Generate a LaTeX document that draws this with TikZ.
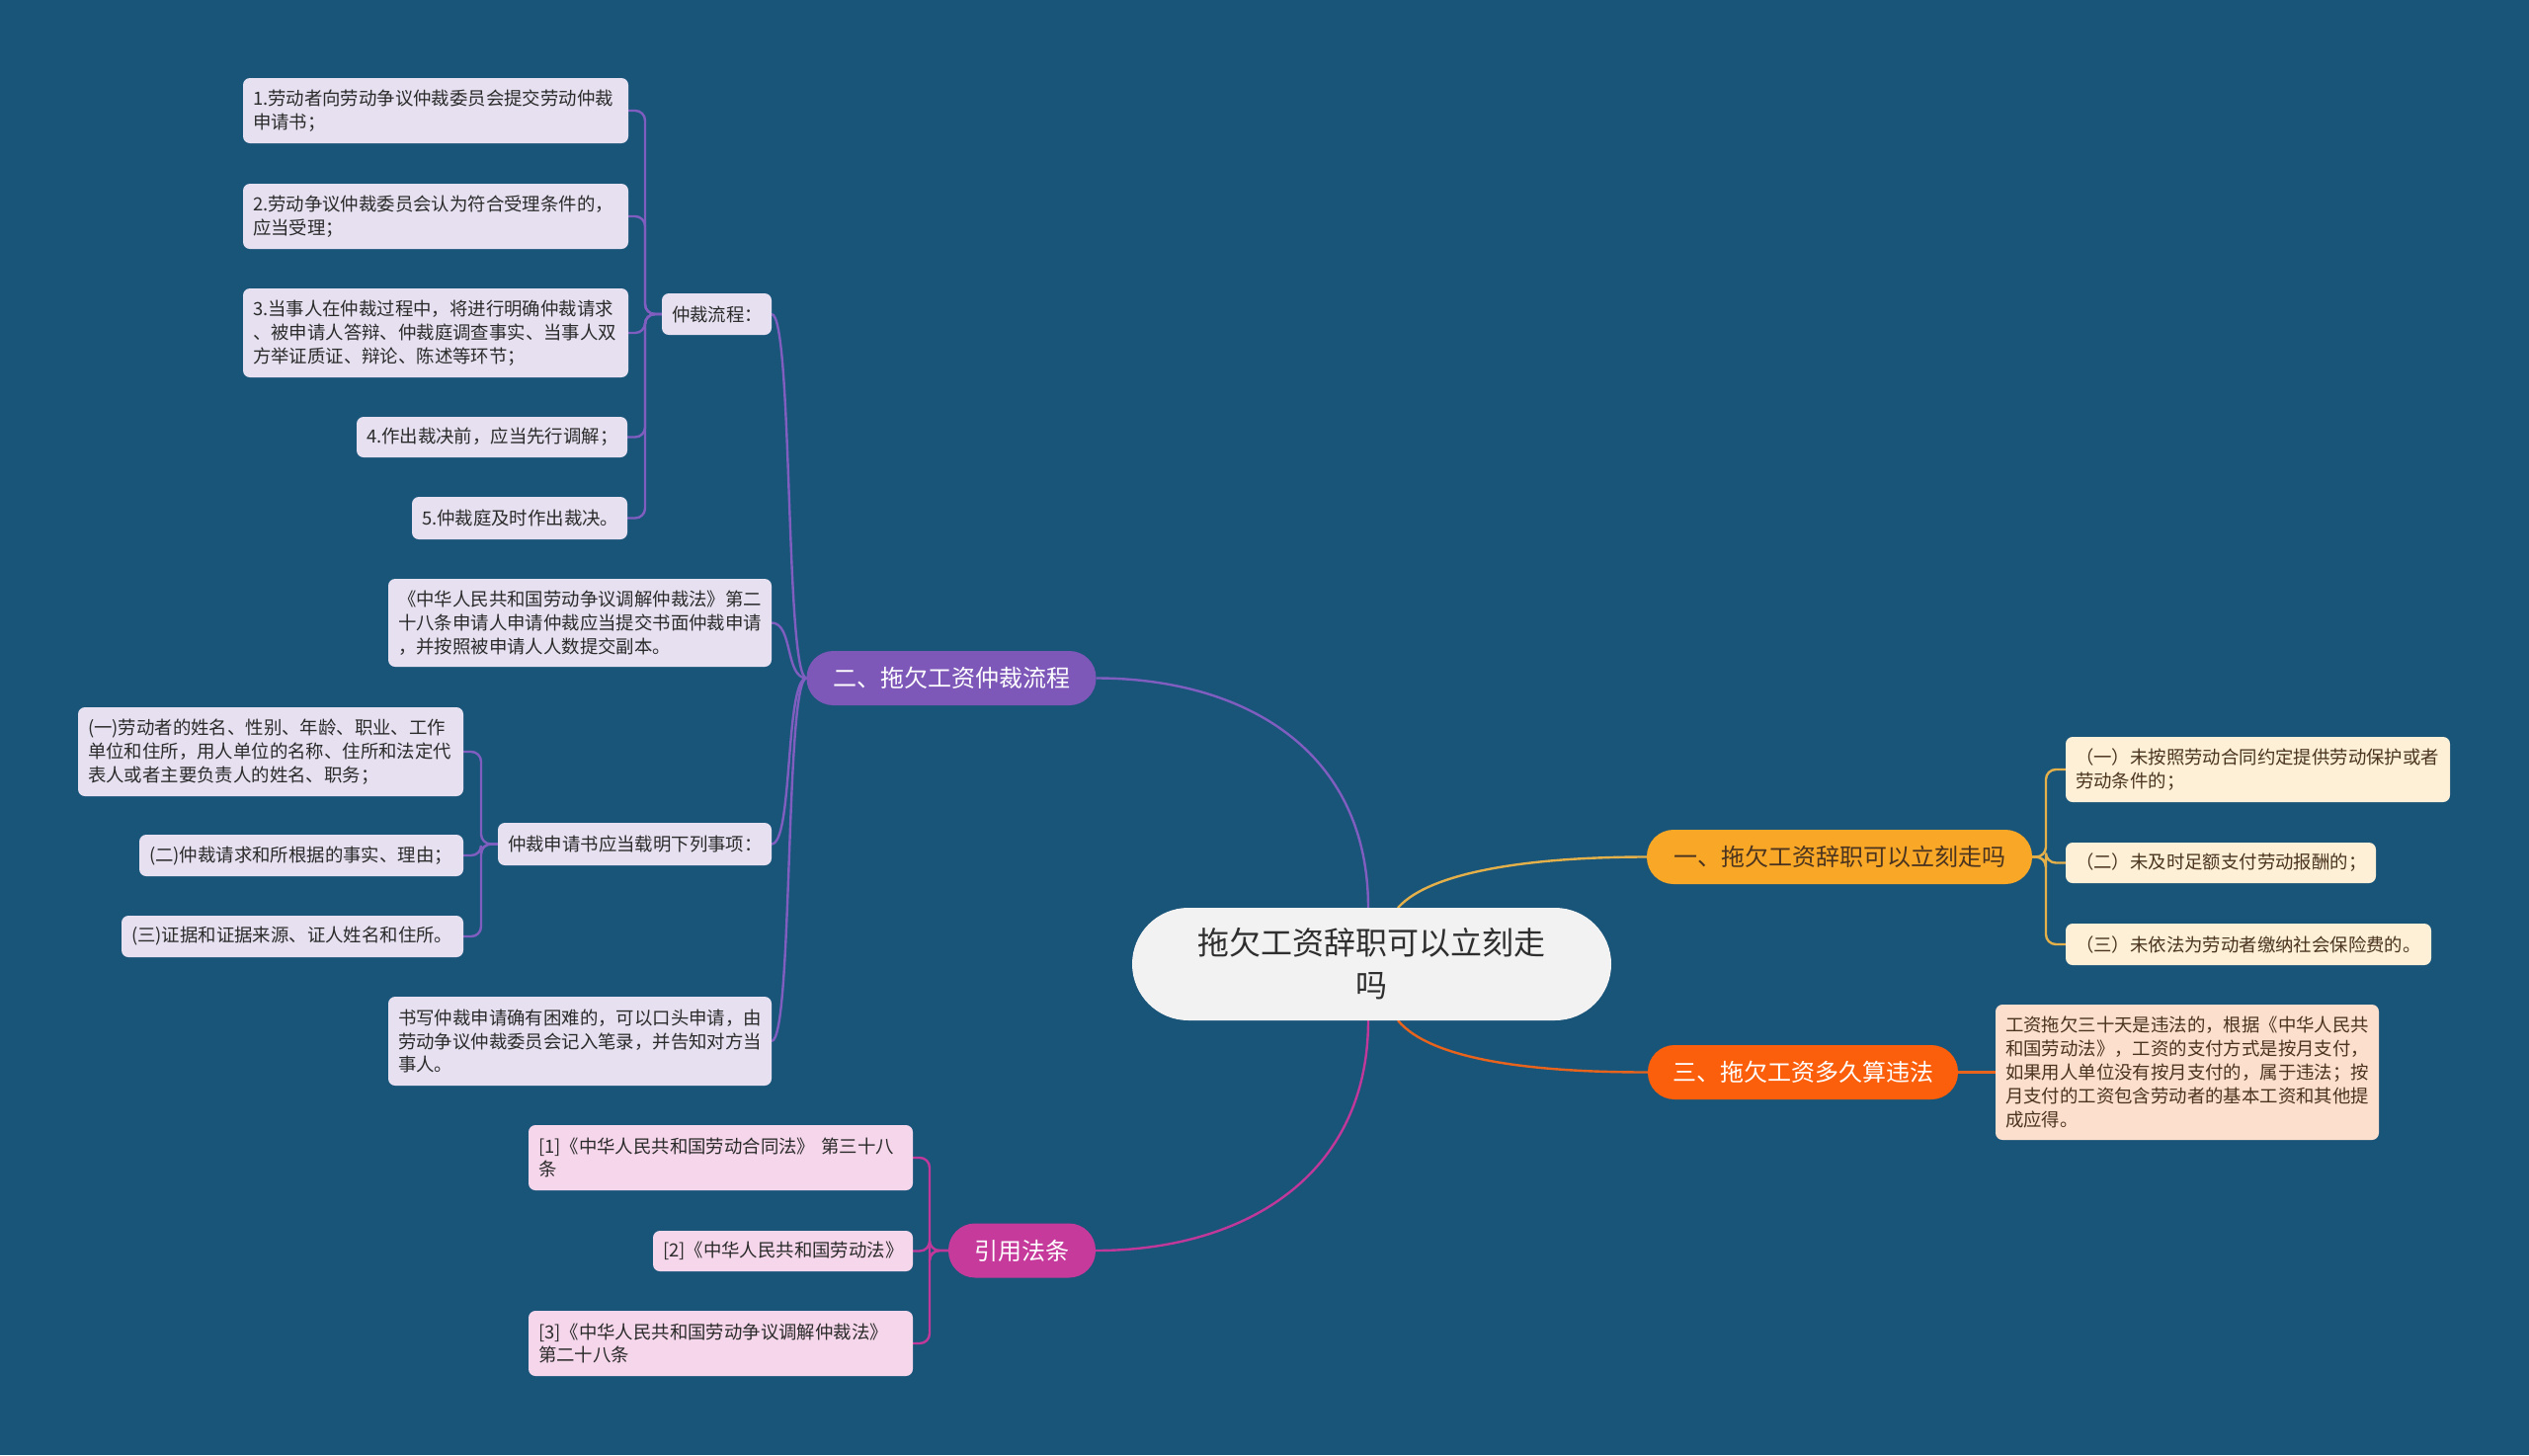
\documentclass[tikz,border=0pt]{standalone}
\usepackage{fontspec}
\setmainfont{Noto Sans CJK SC}
\usetikzlibrary{calc}
\pgfdeclarelayer{bg}
\pgfsetlayers{bg,main}
\definecolor{bgc}{HTML}{195479}
\definecolor{cfill}{HTML}{F2F2F2}
\definecolor{ctext}{HTML}{2E2E2E}
\definecolor{yel}{HTML}{F8A726}
\definecolor{yelline}{HTML}{E3B04A}
\definecolor{ora}{HTML}{FB5F0B}
\definecolor{oraline}{HTML}{E8641C}
\definecolor{pur}{HTML}{7E58B9}
\definecolor{purline}{HTML}{7F5EC0}
\definecolor{mag}{HTML}{C63A9C}
\definecolor{magline}{HTML}{C0399A}
\definecolor{cream}{HTML}{FDF0D6}
\definecolor{peach}{HTML}{FDDFCD}
\definecolor{lav}{HTML}{E6E0F0}
\definecolor{pink}{HTML}{F5D6EA}
\definecolor{darktext}{HTML}{2B2B2B}
\definecolor{browntext}{HTML}{4A3420}
\tikzset{
  x=1pt, y=-1pt,
  base/.style={outer sep=0pt, inner ysep=0pt},
  central/.style={base, fill=cfill, text=ctext, rounded corners=57pt, font=\fontsize{32}{43}\selectfont, align=center, minimum width=485pt, minimum height=114pt},
  branch/.style={base, rounded corners=27pt, font=\fontsize{24}{30}\selectfont, align=center, minimum height=55pt},
  leaf/.style={base, rounded corners=7pt, font=\fontsize{18.4}{23.8}\selectfont, align=left, inner xsep=10pt},
  lavleaf/.style={leaf, fill=lav, text=darktext},
  pinkleaf/.style={leaf, fill=pink, text=darktext},
  creamleaf/.style={leaf, fill=cream, text=browntext},
  peachleaf/.style={leaf, fill=peach, text=browntext},
  conn/.style={line width=2.4pt},
  tree/.style={line width=2.4pt, rounded corners=10pt},
}
\begin{document}
\begin{tikzpicture}
\begin{pgfonlayer}{bg}
\fill[bgc] (0,0) rectangle (2560,1473);
\end{pgfonlayer}
\useasboundingbox (0,0) rectangle (2560,1473);

% central
\node[central] (c) at (1388.5,976) {拖欠工资辞职可以立刻走\\吗};

% branches
\node[branch, fill=yel, text=browntext, minimum width=390pt] (b1) at (1862,867.5) {一、拖欠工资辞职可以立刻走吗};
\node[branch, fill=ora, text=white, minimum width=314pt] (b3) at (1825,1085.5) {三、拖欠工资多久算违法};
\node[branch, fill=pur, text=white, minimum width=293pt] (b2) at (963,686.5) {二、拖欠工资仲裁流程};
\node[branch, fill=mag, text=white, minimum width=149pt] (b4) at (1034.5,1266) {引用法条};

% branch 1 leaves
\node[creamleaf, text width=369pt, minimum height=66pt] (y1) at (2285.5,779) {（一）未按照劳动合同约定提供劳动保护或者\\劳动条件的；};
\node[creamleaf, text width=294pt, minimum height=41pt] (y2) at (2248,873.5) {（二）未及时足额支付劳动报酬的；};
\node[creamleaf, text width=350pt, minimum height=42pt] (y3) at (2276,956) {（三）未依法为劳动者缴纳社会保险费的。};

% branch 3 leaf
\node[peachleaf, text width=368pt, minimum height=137pt] (o1) at (2214,1085.5) {工资拖欠三十天是违法的，根据《中华人民共\\和国劳动法》，工资的支付方式是按月支付，\\如果用人单位没有按月支付的，属于违法；按\\月支付的工资包含劳动者的基本工资和其他提\\成应得。};

% branch 2 children
\node[lavleaf, text width=91pt, minimum height=42pt] (p1) at (725.5,318) {仲裁流程：};
\node[lavleaf, text width=368pt, minimum height=89pt] (p2) at (587,630.5) {《中华人民共和国劳动争议调解仲裁法》第二\\十八条申请人申请仲裁应当提交书面仲裁申请\\，并按照被申请人人数提交副本。};
\node[lavleaf, text width=257pt, minimum height=43pt] (p3) at (642.5,854.5) {仲裁申请书应当载明下列事项：};
\node[lavleaf, text width=368pt, minimum height=90pt] (p4) at (587,1054) {书写仲裁申请确有困难的，可以口头申请，由\\劳动争议仲裁委员会记入笔录，并告知对方当\\事人。};

% 仲裁流程 children
\node[lavleaf, text width=370pt, minimum height=66pt] (s1) at (441,112) {1.劳动者向劳动争议仲裁委员会提交劳动仲裁\\申请书；};
\node[lavleaf, text width=370pt, minimum height=66pt] (s2) at (441,219) {2.劳动争议仲裁委员会认为符合受理条件的，\\应当受理；};
\node[lavleaf, text width=370pt, minimum height=90pt] (s3) at (441,337) {3.当事人在仲裁过程中，将进行明确仲裁请求\\、被申请人答辩、仲裁庭调查事实、当事人双\\方举证质证、辩论、陈述等环节；};
\node[lavleaf, text width=254pt, minimum height=41pt] (s4) at (498,442.5) {4.作出裁决前，应当先行调解；};
\node[lavleaf, text width=198pt, minimum height=43pt] (s5) at (526,524.5) {5.仲裁庭及时作出裁决。};

% 仲裁申请书 children
\node[lavleaf, text width=370pt, minimum height=90pt] (q1) at (274,761) {(一)劳动者的姓名、性别、年龄、职业、工作\\单位和住所，用人单位的名称、住所和法定代\\表人或者主要负责人的姓名、职务；};
\node[lavleaf, text width=308pt, minimum height=42pt] (q2) at (305,866) {(二)仲裁请求和所根据的事实、理由；};
\node[lavleaf, text width=326pt, minimum height=42pt] (q3) at (296,948) {(三)证据和证据来源、证人姓名和住所。};

% 引用法条 children
\node[pinkleaf, text width=369pt, minimum height=66pt] (r1) at (729.5,1172) {[1]《中华人民共和国劳动合同法》 第三十八\\条};
\node[pinkleaf, text width=243pt, minimum height=41pt] (r2) at (792.5,1266.5) {[2]《中华人民共和国劳动法》};
\node[pinkleaf, text width=369pt, minimum height=66pt] (r3) at (729.5,1360) {[3]《中华人民共和国劳动争议调解仲裁法》\\第二十八条};

\begin{pgfonlayer}{bg}
% central to branches
\draw[conn, purline] ([xshift=-3.5pt]c.north) .. controls (1385,760) and (1260,686.5) .. (b2.east);
\draw[conn, yelline] ([xshift=26.5pt]c.north) .. controls (1450,880) and (1560,867.5) .. (b1.west);
\draw[conn, oraline] ([xshift=26.5pt]c.south) .. controls (1450,1075) and (1560,1085.5) .. (b3.west);
\draw[conn, magline] ([xshift=-3.5pt]c.south) .. controls (1385,1190) and (1260,1266) .. (b4.east);

% branch 1
\foreach \n in {y1,y2,y3}
  \draw[tree, yelline] (b1.east) -- ++(14,0) |- (\n.west);
% branch 3
\draw[conn, oraline] (b3.east) -- (o1.west);
% branch 2
\foreach \n in {p1,p2,p3,p4}
  \draw[conn, purline] (b2.west) .. controls +(-22,0) and +(22,0) .. (\n.east);
% 仲裁流程
\foreach \n in {s1,s2,s3,s4,s5}
  \draw[tree, purline] (p1.west) -- ++(-17,0) |- (\n.east);
% 仲裁申请书
\foreach \n in {q1,q2,q3}
  \draw[tree, purline] (p3.west) -- ++(-17,0) |- (\n.east);
% 引用法条
\foreach \n in {r1,r2,r3}
  \draw[tree, magline] (b4.west) -- ++(-19,0) |- (\n.east);
\end{pgfonlayer}
\end{tikzpicture}
\end{document}
